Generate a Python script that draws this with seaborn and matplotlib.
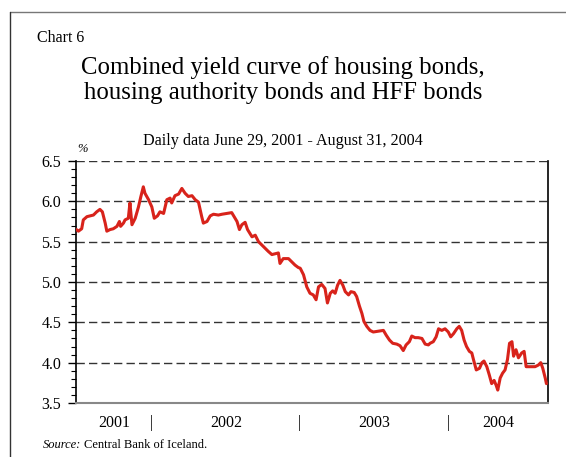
import matplotlib.pyplot as plt
import matplotlib.dates as mdates
import matplotlib.ticker as mticker
import numpy as np
import pandas as pd
import seaborn as sns
from matplotlib.lines import Line2D

# Combined yield (%); days counted from 29 June 2001
start_date = "2001-06-29"
end_date = "2004-08-31"
day_offset = [
    0, 5, 13, 17, 26, 42, 50, 58, 64, 71, 75, 83, 91, 100, 106, 109, 116, 120,
    128, 132, 137, 145, 153, 159, 165, 169, 178, 186, 192, 200, 206, 215, 223,
    231, 235, 243, 252, 260, 268, 276, 285, 293, 301, 309, 313, 322, 330, 338,
    350, 359, 371, 383, 389, 396, 402, 408, 416, 422, 428, 433, 441, 449, 457,
    465, 473, 482, 490, 498, 502, 510, 523, 531, 539, 547, 552, 560, 568, 576,
    584, 591, 597, 605, 613, 619, 626, 632, 638, 644, 650, 657, 663, 671, 677,
    685, 691, 698, 704, 709, 716, 724, 732, 745, 757, 764, 772, 780, 790, 798,
    806, 813, 821, 827, 835, 843, 852, 860, 868, 872, 880, 887, 893, 901, 909,
    917, 923, 930, 938, 944, 950, 956, 962, 969, 975, 979, 986, 994, 1000,
    1005, 1012, 1018, 1024, 1030, 1035, 1039, 1045, 1051, 1057, 1063, 1068,
    1074, 1078, 1084, 1090, 1098, 1104, 1109, 1119, 1131, 1139, 1145, 1150,
    1156, 1159,
]
yield_pct = [
    5.65, 5.63, 5.66, 5.77, 5.81, 5.83, 5.87, 5.90, 5.87, 5.73, 5.63, 5.65,
    5.66, 5.69, 5.75, 5.69, 5.73, 5.77, 5.79, 5.98, 5.71, 5.79, 5.93, 6.06,
    6.18, 6.10, 6.02, 5.93, 5.79, 5.82, 5.87, 5.85, 6.02, 6.04, 5.98, 6.07,
    6.09, 6.16, 6.10, 6.06, 6.07, 6.02, 5.99, 5.81, 5.73, 5.75, 5.82, 5.84,
    5.83, 5.84, 5.85, 5.86, 5.81, 5.75, 5.65, 5.71, 5.74, 5.65, 5.60, 5.56,
    5.58, 5.50, 5.46, 5.42, 5.38, 5.34, 5.35, 5.36, 5.23, 5.29, 5.29, 5.25,
    5.21, 5.18, 5.17, 5.09, 4.94, 4.86, 4.84, 4.78, 4.94, 4.97, 4.92, 4.74,
    4.86, 4.89, 4.86, 4.96, 5.02, 4.96, 4.88, 4.84, 4.88, 4.87, 4.82, 4.70,
    4.61, 4.51, 4.45, 4.40, 4.38, 4.39, 4.40, 4.34, 4.28, 4.24, 4.23, 4.21,
    4.15, 4.22, 4.26, 4.33, 4.31, 4.31, 4.30, 4.23, 4.22, 4.24, 4.26, 4.32,
    4.42, 4.40, 4.42, 4.38, 4.32, 4.36, 4.42, 4.45, 4.40, 4.28, 4.20, 4.14,
    4.12, 4.04, 3.91, 3.93, 4.00, 4.02, 3.95, 3.85, 3.74, 3.78, 3.72, 3.66,
    3.81, 3.87, 3.91, 4.04, 4.24, 4.26, 4.08, 4.16, 4.06, 4.12, 4.14, 3.95,
    3.95, 3.95, 3.97, 4.00, 3.93, 3.81, 3.74,
]
year_labels = ["2001", "2002", "2003", "2004"]
y_ticks = [3.5, 4.0, 4.5, 5.0, 5.5, 6.0, 6.5]

df = pd.DataFrame({
    "date": pd.Timestamp(start_date) + pd.to_timedelta(day_offset, unit="D"),
    "yield": yield_pct,
})

sns.set_theme(style="white")
plt.rcParams["font.family"] = ["Liberation Serif", "DejaVu Serif"]
plt.rcParams["text.color"] = "black"
plt.rcParams["xtick.color"] = "black"
plt.rcParams["ytick.color"] = "black"

fig = plt.figure(figsize=(5.66, 4.57), dpi=100)
ax = fig.add_axes([0.135, 0.1182, 0.834, 0.5295])

x_lo = pd.Timestamp(start_date)
x_hi = pd.Timestamp(end_date) + pd.Timedelta(days=5)

for y in y_ticks:
    ax.axhline(y, color="#333333", lw=1.0, dashes=(6, 3), zorder=1)

sns.lineplot(data=df, x="date", y="yield", ax=ax, color="#d8231b", lw=2.2, zorder=3)

ax.set_xlim(x_lo, x_hi)
ax.set_ylim(3.5, 6.5)
ax.set_xlabel("")
ax.set_ylabel("")

ax.yaxis.set_major_locator(mticker.FixedLocator(y_ticks))
ax.yaxis.set_major_formatter(mticker.FormatStrFormatter("%.1f"))
ax.yaxis.set_minor_locator(mticker.MultipleLocator(0.1))
ax.tick_params(axis="y", which="major", length=6, width=1, direction="out",
               labelsize=11.5, pad=5, left=True)
ax.tick_params(axis="y", which="minor", length=3.5, width=0.8, direction="out", left=True)

# year boundaries as "|" marks, year names centred in each segment
bounds = [x_lo] + [pd.Timestamp(f"{y}-01-01") for y in year_labels[1:]] + [x_hi]
mids = [a + (b - a) / 2 for a, b in zip(bounds[:-1], bounds[1:])]
ax.xaxis.set_major_locator(mticker.FixedLocator(mdates.date2num(bounds[1:-1])))
ax.xaxis.set_major_formatter(mticker.FixedFormatter(["|"] * 3))
ax.xaxis.set_minor_locator(mticker.FixedLocator(mdates.date2num(mids)))
ax.xaxis.set_minor_formatter(mticker.FixedFormatter(year_labels))
ax.tick_params(axis="x", which="both", length=0, labelsize=11.5, pad=9)

for side in ["left", "right"]:
    ax.spines[side].set_visible(True)
    ax.spines[side].set_color("black")
    ax.spines[side].set_linewidth(1.2)
ax.spines["top"].set_visible(False)
ax.spines["bottom"].set_color("#888888")
ax.spines["bottom"].set_linewidth(1.5)

# page frame (top and left edges)
fig.add_artist(Line2D([10 / 566, 1], [1 - 12 / 457, 1 - 12 / 457], color="#777777", lw=1.0))
fig.add_artist(Line2D([10 / 566, 10 / 566], [0, 1 - 12 / 457], color="#333333", lw=1.0))

fig.text(37 / 566, 1 - 38 / 457, "Chart 6", fontsize=11.5, va="center", ha="left")
fig.text(0.5, 1 - 80 / 457,
         "Combined yield curve of housing bonds,\nhousing authority bonds and HFF bonds",
         fontsize=17.8, ha="center", va="center", linespacing=1.2)
fig.text(0.5, 1 - 141 / 457, "Daily data June 29, 2001 - August 31, 2004",
         fontsize=11.6, ha="center", va="center")
fig.text(82 / 566, 1 - 149 / 457, "%", fontsize=9, style="italic", ha="center", va="center")
fig.text(43 / 566, 1 - 445 / 457, "Source:", fontsize=9, style="italic", ha="left", va="center")
fig.text(84 / 566, 1 - 445 / 457, "Central Bank of Iceland.", fontsize=9, ha="left", va="center")

fig.savefig("out.png", dpi=100)
